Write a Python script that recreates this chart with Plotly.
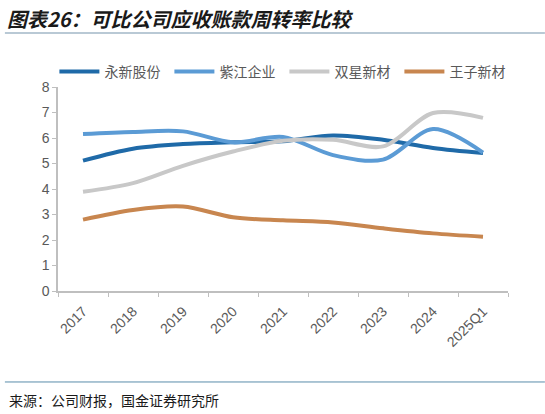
import plotly.graph_objects as go

# 应收账款周转率（次）
periods = ['2017', '2018', '2019', '2020', '2021', '2022', '2023', '2024', '2025Q1']
yongxin = [5.11, 5.58, 5.76, 5.83, 5.87, 6.10, 5.93, 5.61, 5.41]
zijiang = [6.16, 6.24, 6.26, 5.83, 6.04, 5.33, 5.15, 6.35, 5.43]
shuangxing = [3.89, 4.23, 4.91, 5.47, 5.89, 5.93, 5.67, 6.98, 6.79]
wangzi = [2.80, 3.18, 3.31, 2.89, 2.77, 2.69, 2.46, 2.26, 2.13]

series_names = ['永新股份', '紫江企业', '双星新材', '王子新材']
series_colors = ['#1F6AA8', '#5B9BD5', '#C8C8C8', '#C8864F']

title_text = '图表26：可比公司应收账款周转率比较'
source_text = '来源：公司财报，国金证券研究所'

GRAY = '#595959'
CJK = 'Noto Sans CJK SC'
LATIN = 'Liberation Sans, Arial'

fig = go.Figure()
for name, values, color in zip(series_names, [yongxin, zijiang, shuangxing, wangzi], series_colors):
    fig.add_trace(go.Scatter(
        x=periods,
        y=values,
        name=name,
        mode='lines',
        line=dict(color=color, width=4, shape='spline', smoothing=0.9),
    ))

fig.update_layout(
    width=545,
    height=414,
    margin=dict(l=58, r=37, t=87, b=123),
    paper_bgcolor='white',
    plot_bgcolor='white',
    showlegend=True,
    legend=dict(
        orientation='h',
        x=-0.008,
        xanchor='left',
        y=1.074,
        yanchor='middle',
        font=dict(family=CJK, size=14, color=GRAY),
        entrywidth=60,
        entrywidthmode='pixels',
        itemwidth=40,
        bgcolor='rgba(0,0,0,0)',
    ),
    xaxis=dict(
        type='category',
        automargin=False,
        showgrid=False,
        showline=True,
        linecolor='#BFBFBF',
        linewidth=1.5,
        ticks='outside',
        ticklen=4,
        tickcolor='#BFBFBF',
        tickson='boundaries',
        tickangle=-45,
        ticklabelstandoff=5,
        tickfont=dict(family=LATIN, size=14, color=GRAY),
        range=[-0.5, 8.5],
    ),
    yaxis=dict(
        range=[0, 8],
        dtick=1,
        automargin=False,
        showgrid=False,
        zeroline=False,
        showline=True,
        linecolor='#BFBFBF',
        linewidth=1.5,
        ticks='outside',
        ticklen=4,
        tickcolor='#BFBFBF',
        tickfont=dict(family=LATIN, size=14, color=GRAY),
    ),
)

# title, separator lines, source note
fig.add_annotation(
    text='<b><i>' + title_text + '</i></b>',
    xref='paper', yref='paper', x=-0.118, y=1.338,
    xanchor='left', yanchor='middle', showarrow=False,
    font=dict(family=CJK, size=20, color='#1a1a1a'),
)
fig.add_shape(
    type='line', xref='paper', yref='paper',
    x0=-0.118, x1=1.082, y0=1.265, y1=1.265,
    line=dict(color='#B9C9D5', width=2),
)
fig.add_shape(
    type='line', xref='paper', yref='paper',
    x0=-0.118, x1=1.082, y0=-0.446, y1=-0.446,
    line=dict(color='#5A8CAA', width=1),
)
fig.add_annotation(
    text=source_text,
    xref='paper', yref='paper', x=-0.113, y=-0.534,
    xanchor='left', yanchor='middle', showarrow=False,
    font=dict(family=CJK, size=14, color='#1a1a1a'),
)

# drop the browser's default body margin so the figure sits at the page corner
fig.write_html(
    "out.html",
    config={'displayModeBar': False},
    post_script="document.body.style.margin='0';",
)
